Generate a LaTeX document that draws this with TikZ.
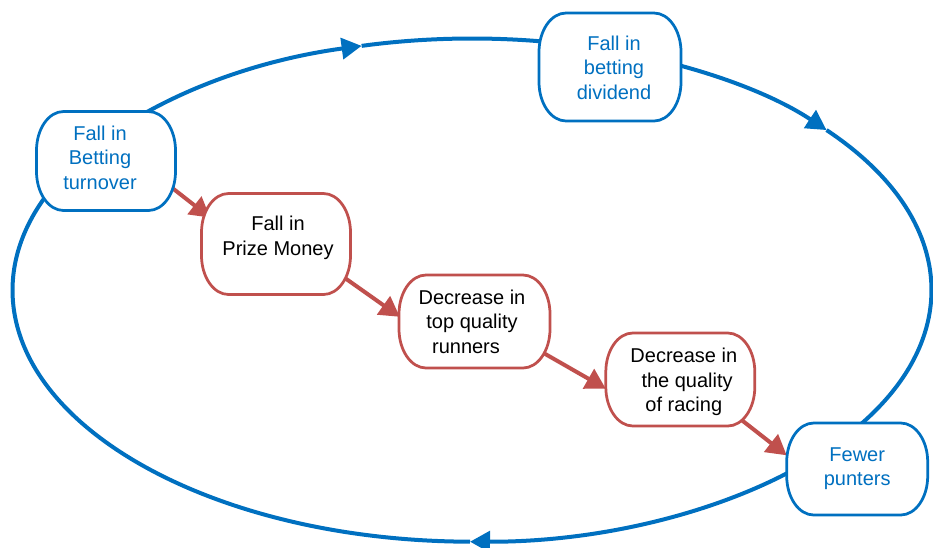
\documentclass[tikz,border=0pt]{standalone}
\usepackage{fontspec}
\setmainfont{Liberation Sans}
\usetikzlibrary{arrows.meta,calc,backgrounds}
\definecolor{cblue}{HTML}{0070C0}
\definecolor{cred}{HTML}{C0504D}
% #1 horizontal shift (twice the offset), #2 upward shift, #3 number of lines, #4 text
\newcommand\boxtext[4]{\hspace*{#1}\raisebox{0pt}[\dimexpr17.15pt-#2\relax][\dimexpr24.5pt*#3-17.15pt+#2\relax]{\begin{tabular}[t]{@{}c@{}}#4\end{tabular}}}
\newcommand\boxoutline[2]{%
 \filldraw[draw=#2, fill=white, line width=2.75pt]
 ($(#1.north west)+(27pt,0)$) -- ($(#1.north east)+(-27pt,0)$)
 arc[start angle=90, end angle=0, x radius=27pt, y radius=39pt]
 -- ($(#1.south east)+(0,39pt)$)
 arc[start angle=0, end angle=-90, x radius=27pt, y radius=39pt]
 -- ($(#1.south west)+(27pt,0)$)
 arc[start angle=-90, end angle=-180, x radius=27pt, y radius=39pt]
 -- ($(#1.north west)+(0,-39pt)$)
 arc[start angle=180, end angle=90, x radius=27pt, y radius=39pt] -- cycle;}
\tikzset{
 bnode/.style={inner sep=0pt, outer sep=0pt, font=\fontsize{20}{24.5}\selectfont, text=#1},
 blueline/.style={draw=cblue, line width=4pt},
 bluetip/.style={-{Triangle[length=20pt,width=21pt]}},
 redarrow/.style={draw=cred, line width=4pt, -{Triangle[length=20pt,width=22pt]}, shorten <=-12pt},
 ell/.style={x radius=459.5pt, y radius=251.6pt}
}
\begin{document}
\begin{tikzpicture}[x=1pt,y=1pt]
\useasboundingbox (0,0) rectangle (933,-547);
\node[bnode=cblue, minimum width=139pt, minimum height=99pt] (n1) at (106,-161)
  {\boxtext{-12pt}{1.4pt}{3}{Fall in\\Betting\\turnover}};
\node[bnode=cblue, minimum width=142pt, minimum height=108pt] (n2) at (610,-67)
  {\boxtext{8pt}{-2.6pt}{3}{Fall in\\betting\\dividend}};
\node[bnode=black, minimum width=149pt, minimum height=101pt] (n3) at (276,-244)
  {\boxtext{4pt}{5.9pt}{2}{Fall in\\Prize Money}};
\node[bnode=black, minimum width=151pt, minimum height=93pt] (n4) at (474.5,-321.5)
  {\boxtext{-5pt}{-2.4pt}{3}{Decrease in\\top quality\\\hspace*{-12pt}runners}};
\node[bnode=black, minimum width=149pt, minimum height=93pt] (n5) at (680.3,-379.5)
  {\boxtext{7pt}{-2.8pt}{3}{Decrease in\\\hspace*{6.6pt}the quality\\of racing}};
\node[bnode=cblue, minimum width=141pt, minimum height=92pt] (n6) at (857.2,-469)
  {\boxtext{0pt}{0.5pt}{2}{Fewer\\punters}};
\coordinate (O) at (472,-290.1);
\begin{pgfonlayer}{background}
 % blue cycle
 \draw[blueline, bluetip] (O) ++(150:459.5pt and 251.6pt) arc[start angle=150, end angle=103.9, ell];
 \draw[blueline] (O) ++(103.9:459.5pt and 251.6pt) arc[start angle=103.9, end angle=75, ell];
 \draw[blueline, bluetip] (O) ++(75:459.5pt and 251.6pt) arc[start angle=75, end angle=39.5, ell];
 \draw[blueline] (O) ++(39.5:459.5pt and 251.6pt) arc[start angle=39.5, end angle=-40, ell];
 \draw[blueline, bluetip] (O) ++(-40:459.5pt and 251.6pt) arc[start angle=-40, end angle=-90.25, ell];
 \draw[blueline] (O) ++(-90.25:459.5pt and 251.6pt) arc[start angle=-90.25, end angle=-210, ell];
 % red chain
 \draw[redarrow, shorten >=-11pt] (n1.-23.4) -- (n3.156.8);
 \draw[redarrow, shorten >=-1pt] (n3.-27.45) -- (n4.176.06);
 \draw[redarrow] (n4.-25.03) -- (n5.187.95);
 \draw[redarrow] (n5.-34) -- (n6.169.7);
 % boxes
 \boxoutline{n1}{cblue}
 \boxoutline{n2}{cblue}
 \boxoutline{n3}{cred}
 \boxoutline{n4}{cred}
 \boxoutline{n5}{cred}
 \boxoutline{n6}{cblue}
\end{pgfonlayer}
\end{tikzpicture}
\end{document}
